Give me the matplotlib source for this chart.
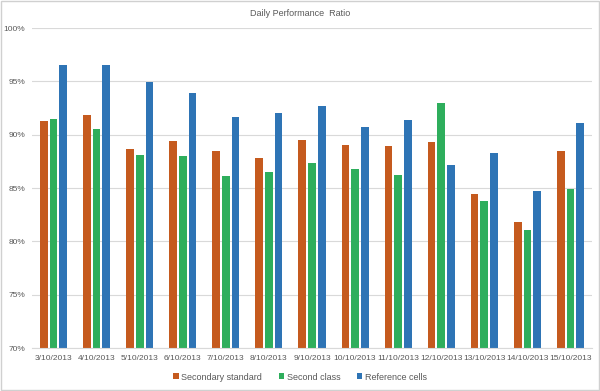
import matplotlib.pyplot as plt
import numpy as np

plt.rcParams['font.family'] = ['Liberation Sans Narrow', 'Liberation Sans', 'DejaVu Sans']

dates = ["3/10/2013", "4/10/2013", "5/10/2013", "6/10/2013", "7/10/2013",
         "8/10/2013", "9/10/2013", "10/10/2013", "11/10/2013", "12/10/2013",
         "13/10/2013", "14/10/2013", "15/10/2013"]
secondary_standard = [91.3, 91.8, 88.7, 89.4, 88.5, 87.8, 89.5, 89.0, 88.9, 89.3, 84.4, 81.8, 88.5]
second_class = [91.5, 90.5, 88.1, 88.0, 86.1, 86.5, 87.3, 86.8, 86.2, 93.0, 83.8, 81.1, 84.9]
reference_cells = [96.5, 96.5, 94.9, 93.9, 91.7, 92.0, 92.7, 90.7, 91.4, 87.2, 88.3, 84.7, 91.1]

series = [
    ("Secondary standard", secondary_standard, "#C55A1E"),
    ("Second class", second_class, "#2EAE5C"),
    ("Reference cells", reference_cells, "#2E74B5"),
]

fig = plt.figure(figsize=(6, 3.91), dpi=100)
ax = fig.add_axes([32 / 600, 1 - 348 / 391, 560 / 600, 320 / 391])

x = np.arange(len(dates))
w = 0.18
for i, (name, vals, col) in enumerate(series):
    ax.bar(x + (i - 1) * 0.225, vals, width=w, color=col, label=name, zorder=2)

ax.set_ylim(70, 100)
ax.set_xlim(-0.5, len(dates) - 0.5)
ax.set_yticks(np.arange(70, 101, 5))
ax.set_yticklabels([f"{v}%" for v in range(70, 101, 5)])
ax.set_xticks(x)
ax.set_xticklabels(dates)
ax.yaxis.grid(True, color="#D9D9D9", linewidth=0.8, zorder=0)
for s in ["top", "right", "left"]:
    ax.spines[s].set_visible(False)
ax.spines["bottom"].set_color("#D9D9D9")
ax.tick_params(axis="both", length=0, labelsize=6, labelcolor="#595959")
ax.tick_params(axis="y", pad=5)
ax.tick_params(axis="x", pad=5)

fig.text(0.5, 1 - 13 / 391, "Daily Performance  Ratio", ha="center", va="center",
         fontsize=6.5, color="#595959")

leg = fig.legend(loc="center", bbox_to_anchor=(0.5, 1 - 377 / 391), ncol=3,
                 frameon=False, fontsize=6.5, handlelength=0.6, handleheight=0.6,
                 handletextpad=0.3, columnspacing=1.8)
for t in leg.get_texts():
    t.set_color("#595959")

fig.patches.append(plt.Rectangle((0.002, 0.002), 0.996, 0.996, transform=fig.transFigure,
                                 fill=False, edgecolor="#D0D0D0", linewidth=1))

fig.savefig("out.png", dpi=100)
